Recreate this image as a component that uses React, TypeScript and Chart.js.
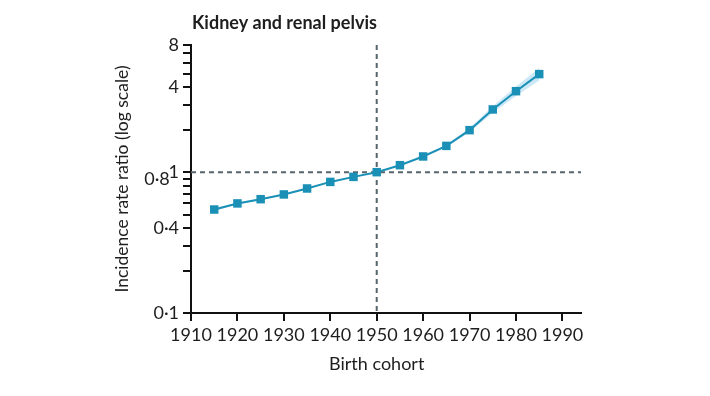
import React, { useEffect, useRef } from 'react';
import { Chart, registerables } from 'chart.js';

Chart.register(...registerables);

const chartTitle = 'Kidney and renal pelvis';
const xTitle = 'Birth cohort';
const yTitle = 'Incidence rate ratio (log scale)';

const years = [1915, 1920, 1925, 1930, 1935, 1940, 1945, 1950, 1955, 1960, 1965, 1970, 1975, 1980, 1985];
const irr = [0.543, 0.600, 0.643, 0.695, 0.766, 0.853, 0.926, 1.0, 1.121, 1.293, 1.537, 1.988, 2.788, 3.76, 4.97];
const ciLow = [0.53, 0.59, 0.635, 0.688, 0.76, 0.848, 0.922, 0.995, 1.113, 1.28, 1.51, 1.92, 2.64, 3.48, 4.48];
const ciHigh = [0.555, 0.61, 0.652, 0.702, 0.772, 0.858, 0.93, 1.005, 1.129, 1.306, 1.565, 2.06, 2.94, 4.06, 5.5];

const xTicks = [1910, 1920, 1930, 1940, 1950, 1960, 1970, 1980, 1990];
const yTicks = [0.1, 0.2, 0.3, 0.4, 0.5, 0.6, 0.7, 0.8, 0.9, 1, 2, 3, 4, 5, 6, 7, 8];
const yLabelValues = [0.1, 0.4, 0.8, 1, 4, 8];
const yLabelTexts = ['0·1', '0·4', '0·8', '1', '4', '8'];

const refX = 1950;
const refY = 1;

const FONT = 'Lato, "Open Sans", sans-serif';
const INK = '#1e1e1e';
const BLUE = '#1a90b6';

export default function App() {
  const ref = useRef<HTMLCanvasElement>(null);

  useEffect(() => {
    if (!ref.current) return;

    const refLines = {
      id: 'refLines',
      beforeDatasetsDraw(chart: any) {
        const { ctx, chartArea: a, scales } = chart;
        const py = scales.y.getPixelForValue(refY);
        const px = scales.x.getPixelForValue(refX);
        ctx.save();
        ctx.strokeStyle = '#56666c';
        ctx.lineWidth = 2;
        ctx.setLineDash([5, 4]);
        ctx.beginPath();
        ctx.moveTo(a.left, py);
        ctx.lineTo(a.right, py);
        ctx.stroke();
        ctx.beginPath();
        ctx.moveTo(px, a.top);
        ctx.lineTo(px, a.bottom);
        ctx.stroke();
        ctx.restore();
      },
    };

    const textPlugin = {
      id: 'textPlugin',
      afterDraw(chart: any) {
        const { ctx, chartArea: a, scales } = chart;
        ctx.save();
        ctx.font = 'bold 18px ' + FONT;
        ctx.fillStyle = INK;
        ctx.textAlign = 'left';
        ctx.textBaseline = 'alphabetic';
        ctx.fillText(chartTitle, a.left + 1, 29);
        ctx.font = '18px ' + FONT;
        ctx.textAlign = 'center';
        ctx.textBaseline = 'middle';
        ctx.fillText(xTitle, scales.x.getPixelForValue(refX), a.bottom + 51);
        ctx.restore();
      },
    };

    const isLabel = (v: number) => yLabelValues.findIndex((t) => Math.abs(t - v) < 1e-9);

    const chart = new Chart(ref.current, {
      type: 'line',
      data: {
        labels: years,
        datasets: [
          {
            data: years.map((x, i) => ({ x, y: ciHigh[i] })),
            borderWidth: 0,
            pointRadius: 0,
            backgroundColor: 'rgba(110,185,225,0.35)',
            fill: '+1',
            order: 2,
          },
          {
            data: years.map((x, i) => ({ x, y: ciLow[i] })),
            borderWidth: 0,
            pointRadius: 0,
            fill: false,
            order: 2,
          },
          {
            data: years.map((x, i) => ({ x, y: irr[i] })),
            borderColor: BLUE,
            borderWidth: 2,
            pointStyle: 'rect',
            pointRadius: 6,
            pointBackgroundColor: BLUE,
            pointBorderWidth: 0,
            fill: false,
            order: 1,
          },
        ],
      },
      options: {
        animation: false,
        responsive: false,
        maintainAspectRatio: false,
        layout: { padding: { left: 108, top: 45, right: 129, bottom: 18 } },
        plugins: { legend: { display: false }, tooltip: { enabled: false } },
        scales: {
          x: {
            type: 'linear',
            min: 1910,
            max: 1994,
            afterBuildTicks: (s: any) => {
              s.ticks = xTicks.map((v) => ({ value: v }));
            },
            afterFit: (s: any) => {
              s.height = 65;
            },
            ticks: {
              autoSkip: false,
              maxRotation: 0,
              padding: 3,
              color: INK,
              font: { family: FONT, size: 18 },
              callback: (v: any) => String(v),
            },
            grid: { drawOnChartArea: false, drawTicks: true, tickLength: 8, lineWidth: 2, color: '#111' },
            border: { display: true, color: '#111', width: 2 },
            title: { display: false },
          },
          y: {
            type: 'logarithmic',
            min: 0.1,
            max: 8,
            afterBuildTicks: (s: any) => {
              s.ticks = yTicks.map((v) => ({ value: v }));
            },
            afterFit: (s: any) => {
              s.width = 83;
            },
            ticks: {
              autoSkip: false,
              padding: 4,
              color: INK,
              font: (c: any) => ({
                family: FONT,
                size: 18,
                lineHeight: c.tick && Math.abs(c.tick.value - 0.8) < 1e-9 ? 0.7 : 1.2,
              }),
              callback: (v: any) => {
                const i = isLabel(Number(v));
                if (i < 0) return '';
                return yLabelValues[i] === 0.8 ? [yLabelTexts[i] + '  ', ''] : yLabelTexts[i];
              },
            },
            grid: { drawOnChartArea: false, drawTicks: true, tickLength: 8, lineWidth: 2, color: '#111' },
            border: { display: true, color: '#111', width: 2 },
            title: {
              display: true,
              text: yTitle,
              color: INK,
              font: { family: FONT, size: 17.5 },
              padding: { top: 4, bottom: 4 },
            },
          },
        },
      },
      plugins: [refLines, textPlugin],
    } as any);

    return () => chart.destroy();
  }, []);

  return (
    <div style={{ position: 'fixed', left: 0, top: 0, width: 710, height: 396, background: '#fff' }}>
      <canvas ref={ref} width={710} height={396} style={{ display: 'block' }} />
    </div>
  );
}
